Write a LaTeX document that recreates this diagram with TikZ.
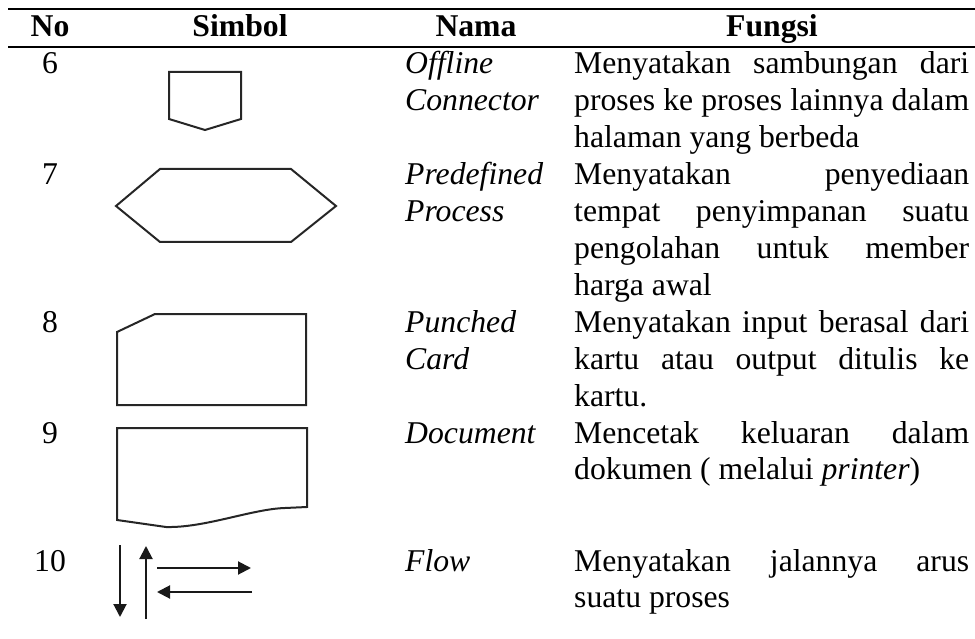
\documentclass[tikz,border=0pt]{standalone}
\usepackage{fontspec}
\setmainfont{Liberation Serif}
\usetikzlibrary{arrows.meta}
% one justified line of the description column
\newcommand{\jline}[1]{\makebox[395pt][s]{#1}}
\begin{document}
\begin{tikzpicture}[x=1pt,y=-1pt,
  cell/.style={inner sep=0pt, font=\fontsize{31.7}{36.9}\selectfont},
  leftcell/.style={cell, anchor=base west},
  midcell/.style={cell, anchor=base},
  head/.style={midcell, font=\fontsize{31.7}{36.9}\selectfont\bfseries},
  namecell/.style={leftcell, font=\fontsize{31.7}{36.9}\selectfont\itshape},
  rule/.style={line width=2.2pt, black},
  sym/.style={line width=2pt, draw=black!85, line join=miter},
  flowarrow/.style={line width=2pt, black!90, -{Triangle[length=13pt,width=13pt]}}
]
\useasboundingbox (0,0) rectangle (975,639);

% table rules
\draw[rule] (8,9) -- (975,9);
\draw[rule] (8,47) -- (975,47);

% header
\node[head] (hNo)  at (50,37)  {No};
\node[head] (hSym) at (240,37) {Simbol};
\node[head] (hNam) at (476,37) {Nama};
\node[head] (hFun) at (772,37) {Fungsi};

% row numbers
\node[midcell] (n6)  at (50,74)    {6};
\node[midcell] (n7)  at (50,184.7) {7};
\node[midcell] (n8)  at (50,332.3) {8};
\node[midcell] (n9)  at (50,443)   {9};
\node[midcell] (n10) at (50,571)   {10};

% names
\node[namecell] (a6)  at (405,74)    {Offline};
\node[namecell] (b6)  at (405,110.9) {Connector};
\node[namecell] (a7)  at (405,184.7) {Predefined};
\node[namecell] (b7)  at (405,221.6) {Process};
\node[namecell] (a8)  at (405,332.3) {Punched};
\node[namecell] (b8)  at (405,369.2) {Card};
\node[namecell] (a9)  at (405,443)   {Document};
\node[namecell] (a10) at (405,571)   {Flow};

% descriptions
\node[leftcell] (d6a) at (574,74)    {\jline{Menyatakan sambungan dari}};
\node[leftcell] (d6b) at (574,110.9) {\jline{proses ke proses lainnya dalam}};
\node[leftcell] (d6c) at (574,147.8) {halaman yang berbeda};
\node[leftcell] (d7a) at (574,184.7) {\jline{Menyatakan penyediaan}};
\node[leftcell] (d7b) at (574,221.6) {\jline{tempat penyimpanan suatu}};
\node[leftcell] (d7c) at (574,258.5) {\jline{pengolahan untuk member}};
\node[leftcell] (d7d) at (574,295.4) {harga awal};
\node[leftcell] (d8a) at (574,332.3) {\jline{Menyatakan input berasal dari}};
\node[leftcell] (d8b) at (574,369.2) {\jline{kartu atau output ditulis ke}};
\node[leftcell] (d8c) at (574,406.1) {kartu.};
\node[leftcell] (d9a) at (574,443)   {\jline{Mencetak keluaran dalam}};
\node[leftcell] (d9b) at (574,479.9) {dokumen ( melalui \textit{printer})};
\node[leftcell] (d10a) at (574,571)  {\jline{Menyatakan jalannya arus}};
\node[leftcell] (d10b) at (574,607.9) {suatu proses};

% symbol 6: offline connector
\draw[sym] (169,72) -- (241,72) -- (241,119) -- (205,130) -- (169,119) -- cycle;

% symbol 7: predefined process (hexagon)
\draw[sym] (116,206) -- (160,169) -- (291,169) -- (336,206) -- (291,242) -- (160,242) -- cycle;

% symbol 8: punched card
\draw[sym] (117,332) -- (155,314) -- (306,314) -- (306,405) -- (117,405) -- cycle;

% symbol 9: document with wavy bottom edge
\draw[sym] (117,428) -- (307,428) -- (307,507) -- (285,508)
  .. controls (252,509) and (205,528) .. (166,527) -- (117,520) -- cycle;

% symbol 10: flow arrows
\coordinate (dnA) at (120,545);
\coordinate (dnB) at (120,617);
\coordinate (upA) at (146,619);
\coordinate (upB) at (146,546);
\coordinate (rtA) at (157,568);
\coordinate (rtB) at (251,568);
\coordinate (ltA) at (252,592);
\coordinate (ltB) at (157,592);
\draw[flowarrow] (dnA) -- (dnB);
\draw[flowarrow] (upA) -- (upB);
\draw[flowarrow] (rtA) -- (rtB);
\draw[flowarrow] (ltA) -- (ltB);
\end{tikzpicture}
\end{document}
